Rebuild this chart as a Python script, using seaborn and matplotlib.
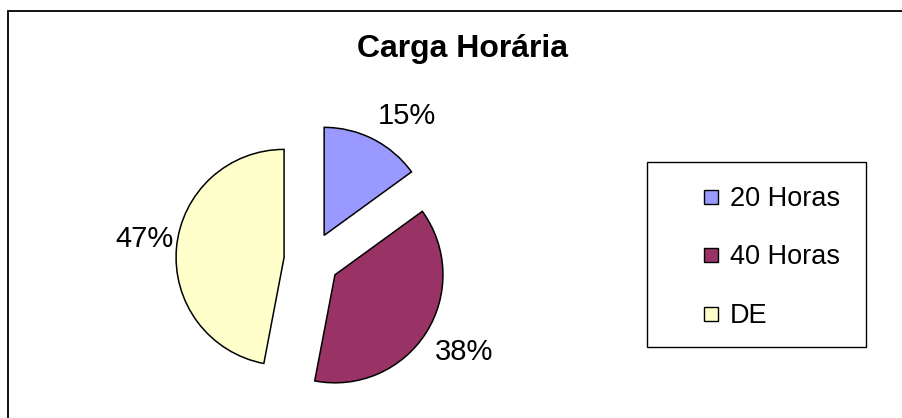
import matplotlib
matplotlib.use("Agg")
import numpy as np
import matplotlib.pyplot as plt
from matplotlib.patches import Rectangle
from matplotlib.lines import Line2D
import seaborn as sns

categories = ["20 Horas", "40 Horas", "DE"]
values = [15, 38, 47]
colors = ["#9999FF", "#993366", "#FFFFCC"]
title = "Carga Horária"

sns.set_theme(style="white")
plt.rcParams["font.family"] = ["Liberation Sans", "DejaVu Sans"]
plt.rcParams["text.color"] = "black"

W, H = 902, 418
fig = plt.figure(figsize=(W / 100, H / 100), dpi=100)
fig.patch.set_facecolor("white")

# pie axes: centre at (311.6, 260) px, radius 108 px
R = 108
half = 1.5 * R
cx, cy = 311.6, 260
ax = fig.add_axes([(cx - half) / W, (H - cy - half) / H, 2 * half / W, 2 * half / H])

wedges, texts, autotexts = ax.pie(
    values, colors=colors, startangle=90, counterclock=False,
    explode=[0.256] * len(values), radius=1.0,
    autopct=lambda p: f"{p:.0f}%", pctdistance=1.1,
    wedgeprops=dict(edgecolor="black", linewidth=1.1),
    textprops=dict(fontsize=21, color="black"),
)
ax.set_xlim(-1.5, 1.5)
ax.set_ylim(-1.5, 1.5)
ax.set_aspect("equal")
ax.axis("off")

# outside-end labels: anchor the label's inner corner just beyond the arc
for w, t in zip(wedges, autotexts):
    th = np.deg2rad((w.theta1 + w.theta2) / 2)
    c, s = np.cos(th), np.sin(th)
    x0, y0 = w.center
    if abs(s) < 0.3:
        gap = 1.03
        va = "baseline"
    else:
        gap = 1.1
        va = "bottom" if s > 0 else "top"
    t.set_position((x0 + gap * w.r * c, y0 + gap * w.r * s))
    t.set_ha("left" if c > 0.3 else ("right" if c < -0.3 else "center"))
    t.set_va(va)
    t.set_clip_on(False)

# title
fig.text(462.5 / W, 1 - 57 / H, title, ha="center", va="baseline",
         fontsize=23, fontweight="bold", color="black")

# outer border
fig.patches.append(Rectangle((8 / W, -0.2), 1.2, 1.2 - 11 / H, transform=fig.transFigure,
                             fill=False, edgecolor="black", linewidth=1.3))

# legend frame
lx0, ly0, lx1, ly1 = 647, 162, 866, 347
fig.patches.append(Rectangle((lx0 / W, 1 - ly1 / H), (lx1 - lx0) / W, (ly1 - ly0) / H,
                             transform=fig.transFigure, fill=False,
                             edgecolor="black", linewidth=1.0))

handles = [Line2D([], [], linestyle="none", marker="s", markersize=9.5,
                  markerfacecolor=c, markeredgecolor="black", markeredgewidth=1.0)
           for c in colors]
fig.legend(handles, categories, loc="upper left",
           bbox_to_anchor=(700 / W, 1 - 186 / H), frameon=False,
           fontsize=19.5, handlelength=0.8, handletextpad=0.3,
           labelspacing=1.2, borderpad=0, borderaxespad=0, labelcolor="black")

fig.savefig("out.png", dpi=100, facecolor="white")
